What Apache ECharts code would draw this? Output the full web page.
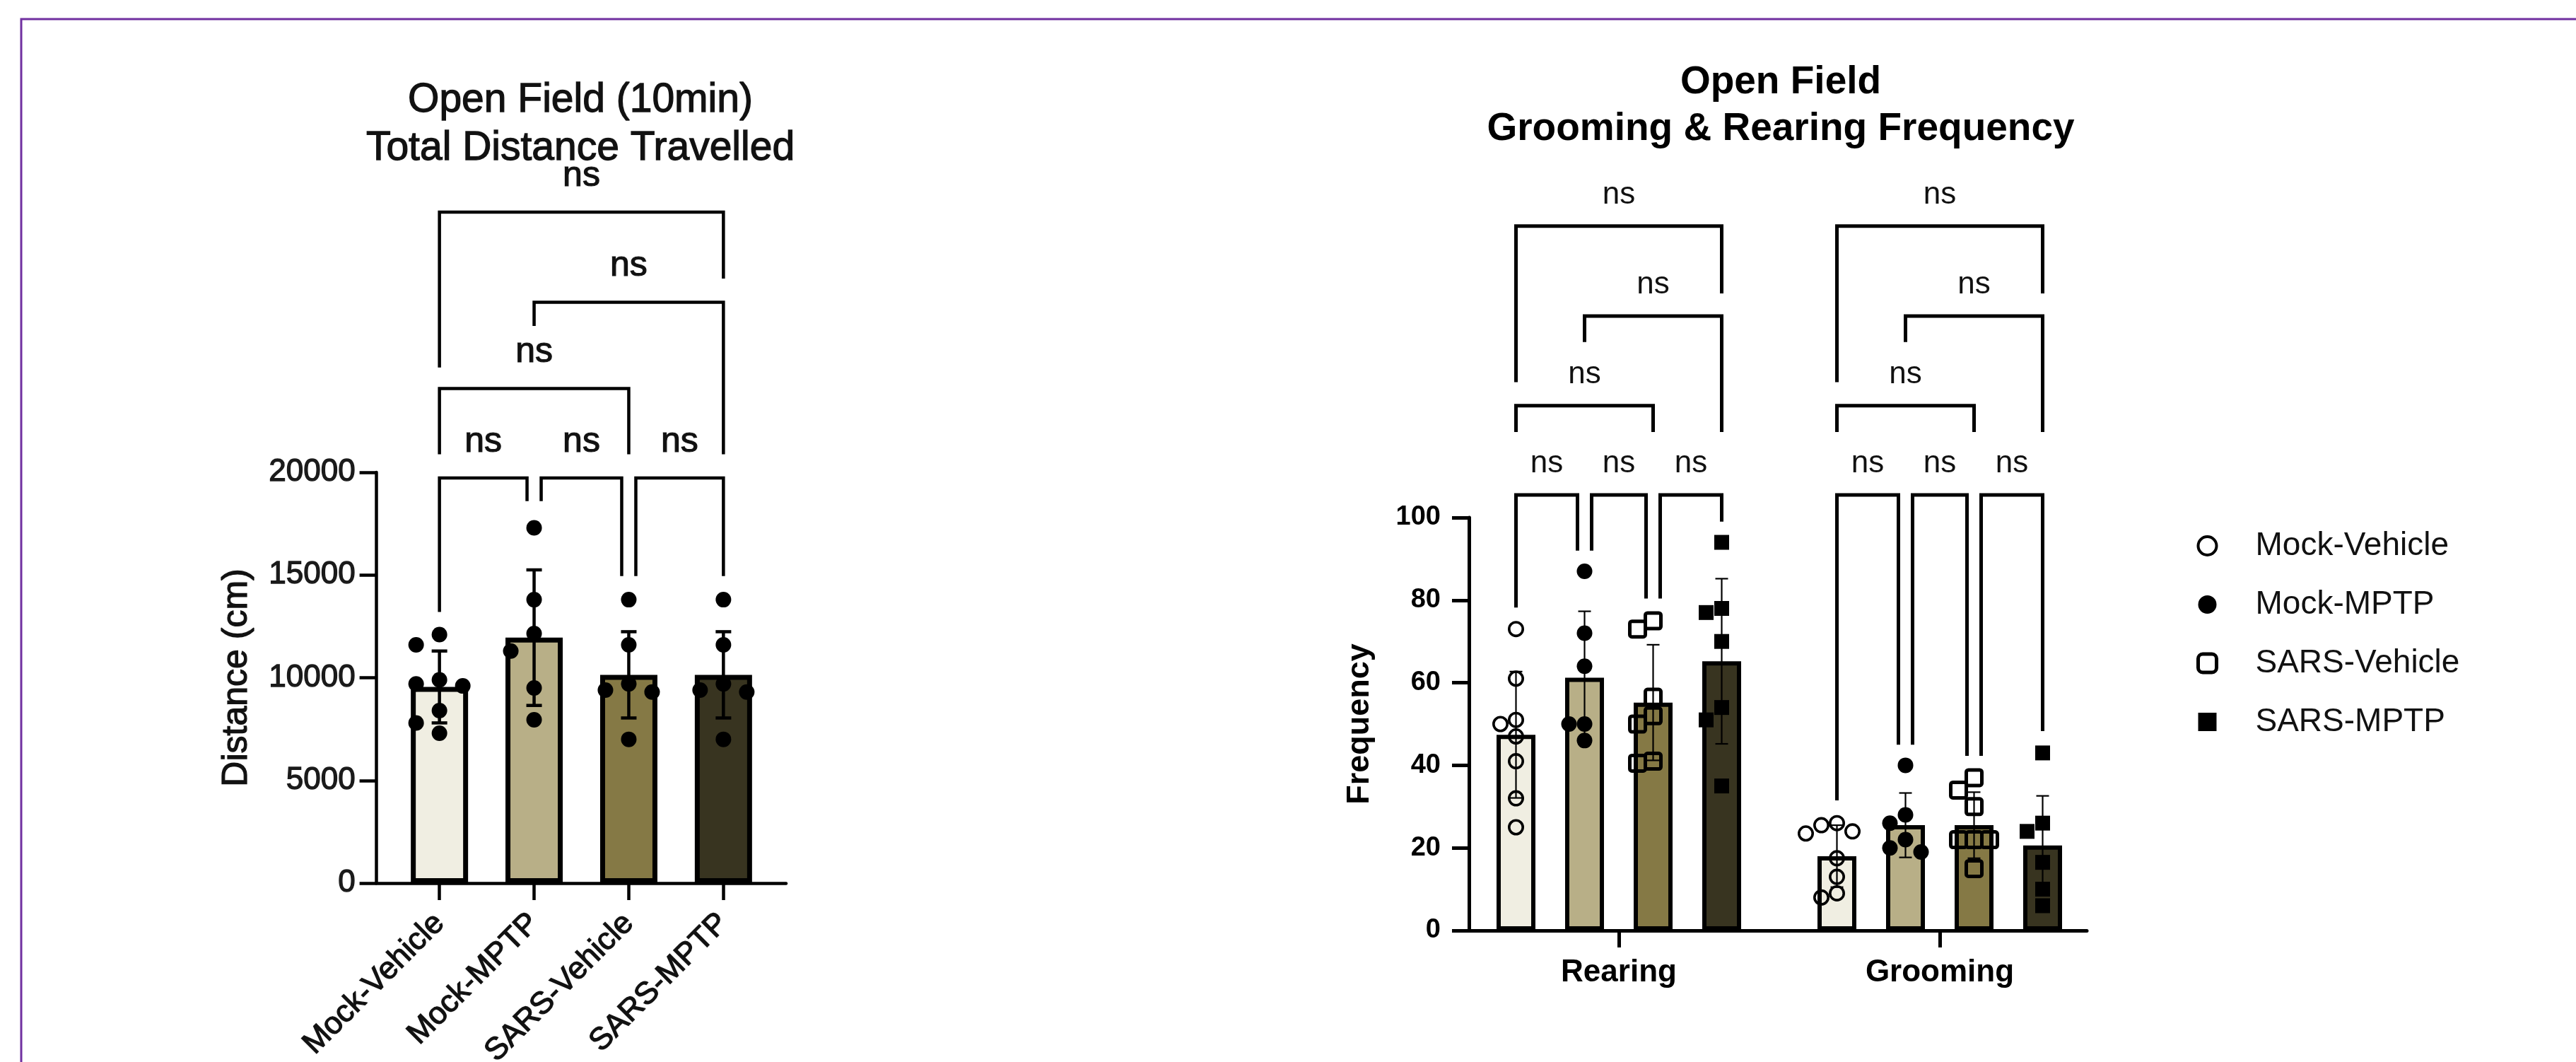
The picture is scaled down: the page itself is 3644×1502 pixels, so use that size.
<!DOCTYPE html>
<html>
<head>
<meta charset="utf-8">
<script src="https://cdn.jsdelivr.net/npm/echarts@6/dist/echarts.min.js"></script>
<style>html,body{margin:0;padding:0;background:#fff}#c{width:3644px;height:1502px}</style>
</head>
<body>
<div id="c"></div>
<script>
// ---------------- DATA ----------------
const groups = ['Mock-Vehicle', 'Mock-MPTP', 'SARS-Vehicle', 'SARS-MPTP'];

// Panel A: Open Field total distance (cm)
const distMean = [9550, 11950, 10140, 10140];
const distSD = [1750, 3300, 2100, 2100];
const distPointsMockVehicle = [12100, 11600, 9900, 9700, 9600, 8400, 7800, 7300];
const distPointsMockMPTP = [17300, 13800, 12150, 11300, 9500, 7950];
const distPointsSarsVehicle = [13800, 11600, 9700, 9400, 9300, 7000];
const distPointsSarsMPTP = [13800, 11600, 9700, 9400, 9300, 7000];
const distTicks = [0, 5000, 10000, 15000, 20000];
// comparison brackets: [from, to, line level, left leg end, right leg end] (data units)
const distBrackets = [
  [0, 1, 19725, 13200, 18600], [1, 2, 19725, 18600, 14950], [2, 3, 19725, 14950, 14950],
  [0, 2, 24075, 20875, 20875], [1, 3, 28280, 27125, 20875], [0, 3, 32670, 25100, 29430]
];
const distBracketLabels = ['ns', 'ns', 'ns', 'ns', 'ns', 'ns'];

// Panel B: grooming & rearing frequency
const freqCategories = ['Rearing', 'Grooming'];
const freqTicks = [0, 20, 40, 60, 80, 100];
// rows: groups; columns: [Rearing, Grooming]
const freqMean = [[47.4, 18.0], [61.2, 25.5], [55.2, 25.5], [65.2, 20.6]];
const freqSD = [[15.3, 7.5], [16.1, 7.8], [14.0, 8.0], [20.0, 12.0]];
const rearingPoints = [
  [73, 61, 51, 50, 47, 41, 32, 25],
  [87, 72, 64, 50, 50, 46],
  [75, 73, 56.5, 52, 50, 41, 40.5],
  [94, 78, 77, 70, 54, 51, 35]
];
const groomingPoints = [
  [26, 25.5, 24, 23.5, 17.5, 13, 9, 8],
  [40, 28, 26, 22, 20, 19],
  [37, 34, 30, 22, 22, 22, 15],
  [43, 26, 24, 16.5, 10, 6]
];
const rearingBrackets = [
  [0, 1, 105.5, 78.2, 92.0], [1, 2, 105.5, 92.0, 80.4], [2, 3, 105.5, 80.4, 99.0],
  [0, 2, 127.1, 120.7, 120.7], [1, 3, 148.8, 142.5, 120.7], [0, 3, 170.6, 132.8, 154.3]
];
const groomingBrackets = [
  [0, 1, 105.5, 31.5, 45.0], [1, 2, 105.5, 45.0, 42.3], [2, 3, 105.5, 42.3, 48.3],
  [0, 2, 127.1, 120.7, 120.7], [1, 3, 148.8, 142.5, 120.7], [0, 3, 170.6, 132.8, 154.3]
];
const freqBracketLabels = ['ns', 'ns', 'ns', 'ns', 'ns', 'ns'];

// ---------------- STYLE ----------------
const FONT = '"Liberation Sans", Arial, Helvetica, sans-serif';
const groupColors = ['#F0EEE2', '#B8AF87', '#857945', '#383420'];
const groupShapes = ['openCircle', 'circle', 'openSquare', 'square'];
const A = { axisLeft: 532.6, axisRight: 1112, top: 668, bottom: 1249, bandLeft: 554.7, bandWidth: 535.6 };
const B = { axisLeft: 2078, axisRight: 2952, top: 732, bottom: 1316, bandLeft: 2063, bandWidth: 908 };
const W = 3644, H = 1502;
const B_BAR_W = 55, B_BAR_GAP = 42, B_STEP = B_BAR_W + B_BAR_GAP;
const barOffsetB = g => (g - 1.5) * B_STEP;
// panel A text is rendered slightly heavier (upscaled look of the original)
const heavyA = { textBorderColor: '#1a1a1a', textBorderWidth: 1.3 };

function swarmOffsets(ys, step, minDist) {
  const order = ys.map((_, i) => i).sort((a, b) => ys[a] - ys[b]);
  const placed = [];
  const out = new Array(ys.length).fill(0);
  order.forEach(i => {
    for (let k = 0; k < 40; k++) {
      const m = Math.ceil(k / 2);
      const dx = k === 0 ? 0 : (k % 2 ? -m : m) * step;
      if (placed.every(p => Math.hypot(p[0] - dx, p[1] - ys[i]) >= minDist)) {
        out[i] = dx; placed.push([dx, ys[i]]); return;
      }
    }
  });
  return out;
}

function symbolEl(shape, x, y, size) {
  if (shape === 'openCircle') return { type: 'circle', shape: { cx: x, cy: y, r: size / 2 - 1.8 }, style: { fill: 'none', stroke: '#000', lineWidth: 3.6 } };
  if (shape === 'circle') return { type: 'circle', shape: { cx: x, cy: y, r: size / 2 }, style: { fill: '#000' } };
  if (shape === 'openSquare') return { type: 'rect', shape: { x: x - size / 2 + 2.5, y: y - size / 2 + 2.5, width: size - 5, height: size - 5, r: 3 }, style: { fill: 'none', stroke: '#000', lineWidth: 5 } };
  return { type: 'rect', shape: { x: x - size / 2, y: y - size / 2, width: size, height: size }, style: { fill: '#000' } };
}

function pointsSeries(name, xi, yi, valsByCat, shape, size, offsetPx, step, minDist) {
  const data = [];
  valsByCat.forEach((vals, c) => vals.forEach((v, k) => data.push([c, v, k])));
  return {
    type: 'custom', name: name, xAxisIndex: xi, yAxisIndex: yi, z: 4, clip: false, silent: true,
    data: data,
    renderItem: (params, api) => {
      const c = api.value(0), k = api.value(2);
      const ys = valsByCat[c].map(v => api.coord([c, v])[1]);
      const offs = swarmOffsets(ys, step, minDist);
      const p = api.coord([c, api.value(1)]);
      return symbolEl(shape, p[0] + offsetPx + offs[k], p[1], size);
    }
  };
}

function errorSeries(name, xi, yi, means, sds, offsetPx, lw, capHalf) {
  return {
    type: 'custom', name: name, xAxisIndex: xi, yAxisIndex: yi, z: 3, clip: false, silent: true,
    data: means.map((m, c) => [c, m, sds[c]]),
    renderItem: (params, api) => {
      const c = api.value(0), m = api.value(1), s = api.value(2);
      const x = api.coord([c, m])[0] + offsetPx;
      const yT = api.coord([c, m + s])[1], yB = api.coord([c, m - s])[1];
      const st = { stroke: '#000', lineWidth: lw };
      return { type: 'group', children: [
        { type: 'line', shape: { x1: x, y1: yT, x2: x, y2: yB }, style: st },
        { type: 'line', shape: { x1: x - capHalf, y1: yT, x2: x + capHalf, y2: yT }, style: st },
        { type: 'line', shape: { x1: x - capHalf, y1: yB, x2: x + capHalf, y2: yB }, style: st }
      ] };
    }
  };
}

// items: [cat, from, to, level, legL, legR, labelIndex]
function bracketSeries(xi, yi, items, labels, posFn, nBars, lw, fontSize, textDrop, inset, extraText) {
  return {
    type: 'custom', xAxisIndex: xi, yAxisIndex: yi, z: 5, clip: false, silent: true,
    data: items,
    renderItem: (params, api) => {
      const c = api.value(0), f = api.value(1), t = api.value(2);
      const lev = api.value(3), lL = api.value(4), lR = api.value(5);
      let x1 = posFn(api, c, f), x2 = posFn(api, c, t);
      if (t - f === 1) { if (f > 0) x1 += inset; if (t < nBars - 1) x2 -= inset; }
      const yBar = api.coord([0, lev])[1], yL = api.coord([0, lL])[1], yR = api.coord([0, lR])[1];
      return { type: 'group', children: [
        { type: 'polyline', shape: { points: [[x1, yL], [x1, yBar], [x2, yBar], [x2, yR]] },
          style: { stroke: '#000', lineWidth: lw, fill: null, lineJoin: 'miter', lineCap: 'butt' } },
        { type: 'text', x: (x1 + x2) / 2, y: yBar - textDrop,
          style: Object.assign({ text: labels[api.value(6)], fontSize: fontSize, fontFamily: FONT, fill: '#111', align: 'center', verticalAlign: 'bottom' }, extraText || {}) }
      ] };
    }
  };
}

const distPointsByCat = [distPointsMockVehicle, distPointsMockMPTP, distPointsSarsVehicle, distPointsSarsMPTP];

const series = [];
// ----- Panel A -----
series.push({
  type: 'bar', xAxisIndex: 0, yAxisIndex: 0, barWidth: 81, z: 2, silent: true,
  data: distMean.map((v, i) => ({ value: v, itemStyle: { color: groupColors[i] } })),
  itemStyle: { borderColor: '#000', borderWidth: 7 }
});
series.push(errorSeries('distErr', 0, 0, distMean, distSD, 0, 4.5, 11));
series.push(pointsSeries('distPts', 0, 0, distPointsByCat, 'circle', 22, 0, 33, 26));
series.push(bracketSeries(0, 0, distBrackets.map((b, i) => [0, b[0], b[1], b[2], b[3], b[4], i]), distBracketLabels,
  (api, c, b) => api.coord([b, 0])[0], 4, 4.5, 50, 26, 10, { stroke: '#1a1a1a', lineWidth: 1.2 }));

// ----- Panel B -----
groups.forEach((g, gi) => {
  series.push({
    type: 'bar', name: g, xAxisIndex: 2, yAxisIndex: 2, barWidth: B_BAR_W, barGap: (B_BAR_GAP / B_BAR_W * 100).toFixed(2) + '%',
    z: 2, silent: true, data: freqMean[gi],
    itemStyle: { color: groupColors[gi], borderColor: '#000', borderWidth: 6 }
  });
});
groups.forEach((g, gi) => {
  series.push(errorSeries(g, 2, 2, freqMean[gi], freqSD[gi], barOffsetB(gi), 2.2, 9));
});
const sizes = { openCircle: 23, circle: 22, openSquare: 27, square: 21 };
groups.forEach((g, gi) => {
  series.push(pointsSeries(g, 2, 2, [rearingPoints[gi], groomingPoints[gi]], groupShapes[gi], sizes[groupShapes[gi]], barOffsetB(gi), 22, 20));
});
const freqItems = rearingBrackets.map((b, i) => [0, b[0], b[1], b[2], b[3], b[4], i])
  .concat(groomingBrackets.map((b, i) => [1, b[0], b[1], b[2], b[3], b[4], i]));
series.push(bracketSeries(2, 2, freqItems, freqBracketLabels,
  (api, c, b) => api.coord([c, 0])[0] + barOffsetB(b), 4, 5, 44, 22, 10));

const axisLineA = { show: true, onZero: false, lineStyle: { color: '#000', width: 4.5 } };
const axisLineB = { show: true, onZero: false, lineStyle: { color: '#000', width: 5 } };

const gridBase = { containLabel: false, outerBoundsMode: 'none' };

const option = {
  animation: false,
  backgroundColor: '#fff',
  title: [
    { text: 'Open Field (10min)\nTotal Distance Travelled', left: 821, top: 108, textAlign: 'center', padding: 0,
      textStyle: Object.assign({ fontFamily: FONT, fontSize: 57, fontWeight: 'normal', color: '#111', lineHeight: 68 }, heavyA) },
    { text: 'Open Field\nGrooming & Rearing Frequency', left: 2519, top: 84, textAlign: 'center', padding: 0,
      textStyle: { fontFamily: FONT, fontSize: 55, fontWeight: 'bold', color: '#000', lineHeight: 66 } }
  ],
  legend: {
    orient: 'vertical', left: 3107, top: 749, itemWidth: 26, itemHeight: 26, itemGap: 37,
    selectedMode: false, padding: 0,
    textStyle: { fontFamily: FONT, fontSize: 46, color: '#111', lineHeight: 46, padding: [0, 0, 0, 50] },
    data: [
      { name: groups[0], icon: 'circle', itemStyle: { color: 'rgba(0,0,0,0)', borderColor: '#000', borderWidth: 4 } },
      { name: groups[1], icon: 'circle', itemStyle: { color: '#000', borderWidth: 0 } },
      { name: groups[2], icon: 'roundRect', itemStyle: { color: 'rgba(0,0,0,0)', borderColor: '#000', borderWidth: 5 } },
      { name: groups[3], icon: 'rect', itemStyle: { color: '#000', borderWidth: 0 } }
    ]
  },
  grid: [
    Object.assign({ left: A.bandLeft, width: A.bandWidth, top: A.top, height: A.bottom - A.top }, gridBase),
    Object.assign({ left: A.axisLeft, width: A.axisRight - A.axisLeft, top: A.top, height: A.bottom - A.top }, gridBase),
    Object.assign({ left: B.bandLeft, width: B.bandWidth, top: B.top, height: B.bottom - B.top }, gridBase),
    Object.assign({ left: B.axisLeft, width: B.axisRight - B.axisLeft, top: B.top, height: B.bottom - B.top }, gridBase)
  ],
  xAxis: [
    { type: 'category', gridIndex: 0, data: groups,
      axisLine: { show: false }, axisTick: { show: true, alignWithLabel: true, length: 24, lineStyle: { color: '#000', width: 4.5 } },
      axisLabel: Object.assign({ rotate: 45, fontSize: 44, margin: 50, color: '#111', fontFamily: FONT }, heavyA), splitLine: { show: false } },
    { type: 'value', gridIndex: 1, min: 0, max: 1, axisLine: axisLineA, axisTick: { show: false }, axisLabel: { show: false }, splitLine: { show: false } },
    { type: 'category', gridIndex: 2, data: freqCategories,
      axisLine: { show: false }, axisTick: { show: true, alignWithLabel: true, length: 24, lineStyle: { color: '#000', width: 5 } },
      axisLabel: { fontSize: 44, fontWeight: 'bold', margin: 38, color: '#000', fontFamily: FONT }, splitLine: { show: false } },
    { type: 'value', gridIndex: 3, min: 0, max: 1, axisLine: axisLineB, axisTick: { show: false }, axisLabel: { show: false }, splitLine: { show: false } }
  ],
  yAxis: [
    { type: 'value', gridIndex: 0, min: distTicks[0], max: distTicks[distTicks.length - 1], show: false },
    { type: 'value', gridIndex: 1, min: distTicks[0], max: distTicks[distTicks.length - 1], interval: distTicks[1] - distTicks[0],
      axisLine: axisLineA, axisTick: { show: true, length: 24, lineStyle: { color: '#000', width: 4.5 } },
      axisLabel: Object.assign({ fontSize: 44, margin: 30, color: '#1a1a1a', fontFamily: FONT, formatter: v => String(v) }, heavyA),
      splitLine: { show: false },
      name: 'Distance (cm)', nameLocation: 'middle', nameGap: 172, nameRotate: 90,
      nameTextStyle: Object.assign({ fontSize: 50, color: '#111', fontFamily: FONT }, heavyA) },
    { type: 'value', gridIndex: 2, min: freqTicks[0], max: freqTicks[freqTicks.length - 1], show: false },
    { type: 'value', gridIndex: 3, min: freqTicks[0], max: freqTicks[freqTicks.length - 1], interval: freqTicks[1] - freqTicks[0],
      axisLine: axisLineB, axisTick: { show: true, length: 24, lineStyle: { color: '#000', width: 5 } },
      axisLabel: { fontSize: 38, fontWeight: 'bold', margin: 40, color: '#000', fontFamily: FONT },
      splitLine: { show: false },
      name: 'Frequency', nameLocation: 'middle', nameGap: 132, nameRotate: 90,
      nameTextStyle: { fontSize: 45, fontWeight: 'bold', color: '#000', fontFamily: FONT } }
  ],
  graphic: [
    { type: 'rect', silent: true, z: -10, shape: { x: 30, y: 27, width: W + 200, height: H + 200 },
      style: { fill: null, stroke: '#7030A0', lineWidth: 3 } }
  ],
  series: series
};

const chart = echarts.init(document.getElementById('c'), null, { renderer: 'canvas', width: W, height: H });
chart.setOption(option);
</script>
</body>
</html>
